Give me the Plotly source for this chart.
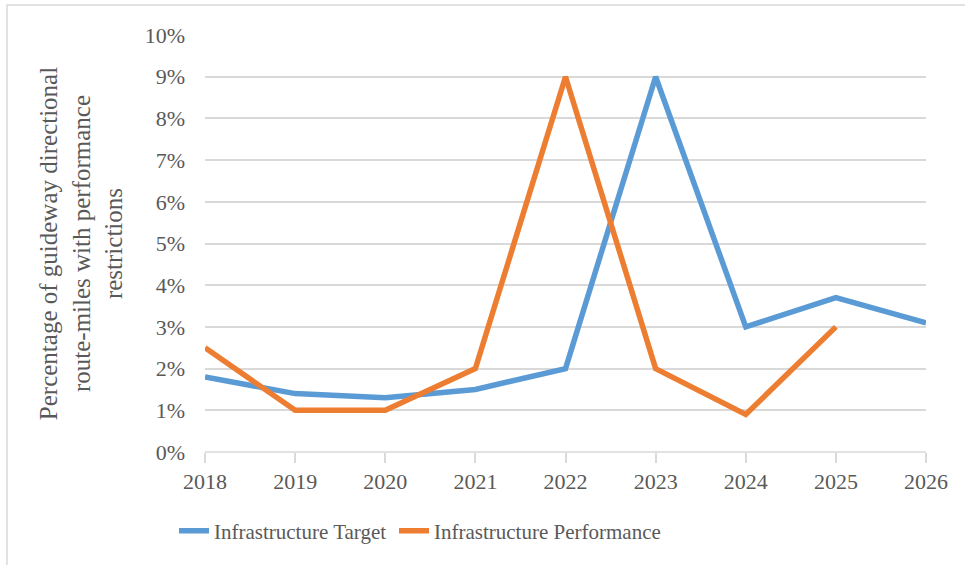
import plotly.graph_objects as go

years = [2018, 2019, 2020, 2021, 2022, 2023, 2024, 2025, 2026]
target = [1.8, 1.4, 1.3, 1.5, 2.0, 9.0, 3.0, 3.7, 3.1]
performance = [2.5, 1.0, 1.0, 2.0, 9.0, 2.0, 0.9, 3.0, None]
y_ticks = [0, 1, 2, 3, 4, 5, 6, 7, 8, 9, 10]
y_labels = [f"{v}%" for v in y_ticks]

FONT = "Liberation Serif"
TXT = "#595959"

fig = go.Figure()
fig.add_trace(go.Scatter(x=years, y=target, mode="lines", name="Infrastructure Target",
                         line=dict(color="#5B9BD5", width=5.5), legend="legend"))
fig.add_trace(go.Scatter(x=years, y=performance, mode="lines", name="Infrastructure Performance",
                         line=dict(color="#ED7D31", width=5.5), legend="legend2"))

W, H = 965, 565
ml, mr, mt, mb = 205, 39, 35, 113
pw, ph = W - ml - mr, H - mt - mb
leg_y = -(531 - (mt + ph)) / ph
leg_common = dict(orientation="h", xanchor="left", y=leg_y, yanchor="middle",
                  font=dict(size=21, family=FONT, color=TXT), bgcolor="rgba(0,0,0,0)")

fig.update_layout(
    width=W, height=H,
    margin=dict(l=ml, r=mr, t=mt, b=mb),
    paper_bgcolor="white", plot_bgcolor="white",
    font=dict(family=FONT, color=TXT, size=20),
    showlegend=True,
    legend=dict(x=(174 - ml) / pw, **leg_common),
    legend2=dict(x=(394 - ml) / pw, **leg_common),
    xaxis=dict(range=[2018, 2026], tickmode="array", tickvals=years, ticktext=[str(y) for y in years],
               showgrid=False, zeroline=False, showline=False, ticks="outside", ticklen=10,
               tickcolor="#d9d9d9", tickwidth=1.5, tickfont=dict(size=22, family=FONT, color=TXT)),
    yaxis=dict(range=[0, 10], tickmode="array", tickvals=y_ticks, ticktext=y_labels,
               showgrid=True, gridcolor="#d9d9d9", gridwidth=1.5, zeroline=False, showline=False,
               ticks="", ticklabelstandoff=19,
               tickfont=dict(size=22, family=FONT, color=TXT),
               title=dict(text="Percentage of guideway directional<br>route-miles with performance<br>restrictions",
                          font=dict(size=25, family=FONT, color=TXT), standoff=14)),
    shapes=[
        dict(type="line", xref="paper", yref="paper", x0=0, x1=1, y0=0, y1=0,
             line=dict(color="#d9d9d9", width=1.5), layer="below"),
        dict(type="rect", xref="paper", yref="paper",
             x0=(7 - ml) / pw, x1=(990 - ml) / pw,
             y0=-(600 - (mt + ph)) / ph, y1=(mt + ph - 5) / ph,
             line=dict(color="#d9d9d9", width=1.5), fillcolor="rgba(0,0,0,0)", layer="below"),
    ],
)

fig.write_html("out.html", config={"displayModeBar": False},
               post_script="document.body.style.margin='0';document.body.style.overflow='hidden';")
